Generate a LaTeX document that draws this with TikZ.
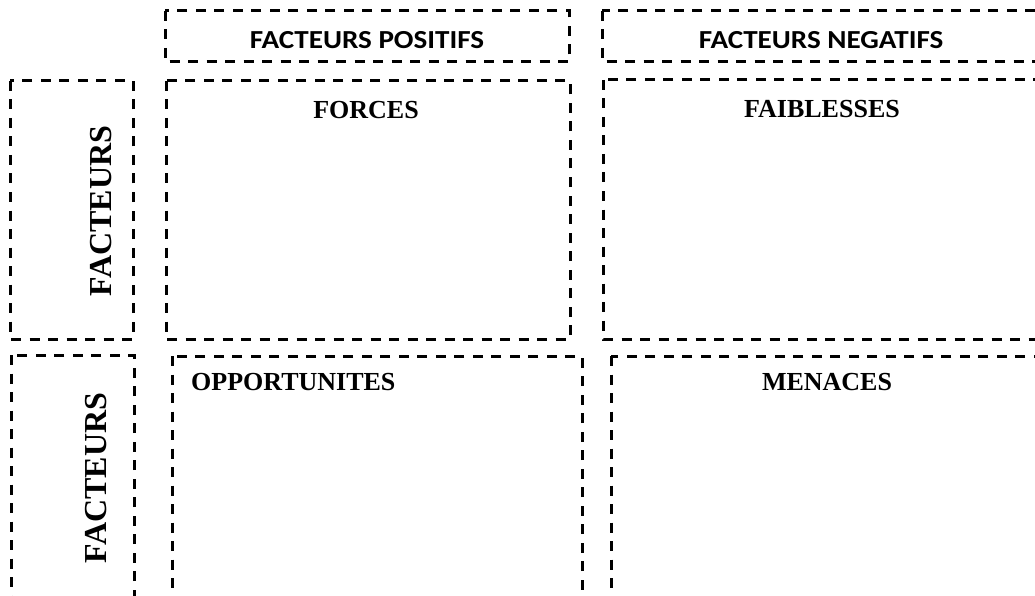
\documentclass[tikz,border=0pt]{standalone}
\usepackage{fontspec}
\usepackage{graphicx}
\setmainfont{Liberation Serif}
\newfontfamily\calibri{Carlito}
\begin{document}
\begin{tikzpicture}[x=1pt,y=-1pt,
  dbox/.style={draw=black,line width=3pt,dash pattern=on 10pt off 8.5pt,line cap=butt},
  head/.style={inner sep=0pt,font=\calibri\bfseries\fontsize{26}{30}\selectfont},
  ttl/.style={inner sep=0pt,font=\bfseries\fontsize{26}{30}\selectfont},
  side/.style={inner sep=0pt,rotate=90,font=\bfseries\fontsize{32}{36}\selectfont}]
\useasboundingbox (0,0) rectangle (1035,596);
\clip (0,0) rectangle (1035,596);
% boxes
\draw[dbox] (165,11) rectangle (569,62);
\draw[dbox] (602,11) rectangle (1045,62);
\draw[dbox] (10,81) rectangle (133,339);
\draw[dbox] (166,81) rectangle (570,339);
\draw[dbox] (603,80) rectangle (1045,339);
\draw[dbox] (11,355) rectangle (134,610);
\draw[dbox] (172,356) rectangle (582,610);
\draw[dbox] (611,356) rectangle (1045,610);
% texts
\node[head] (hpos) at (367,40) {\scalebox{1.12}[1]{FACTEURS POSITIFS}};
\node[head] (hneg) at (821,40) {\scalebox{1.12}[1]{FACTEURS NEGATIFS}};
\node[ttl] (forces) at (366,110) {FORCES};
\node[ttl] (faib) at (822,109) {FAIBLESSES};
\node[ttl,anchor=west] (opp) at (191,382) {OPPORTUNITES};
\node[ttl] (men) at (827,382) {MENACES};
\node[side] (s1) at (101,211) {FACTEURS};
\node[side] (s2) at (96,478) {FACTEURS};
\end{tikzpicture}
\end{document}
